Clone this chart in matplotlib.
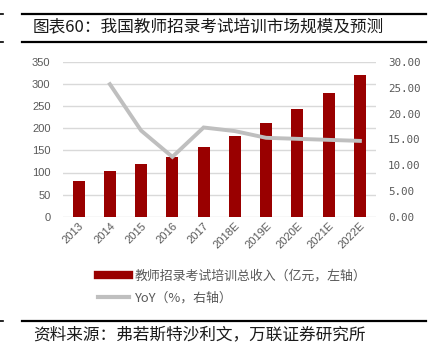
import matplotlib
matplotlib.use("Agg")
import matplotlib.pyplot as plt
from matplotlib.lines import Line2D

years = ["2013", "2014", "2015", "2016", "2017", "2018E", "2019E", "2020E", "2021E", "2022E"]
revenue = [81, 103, 120, 134, 157, 183, 211, 243, 279, 320]
yoy_years = ["2014", "2015", "2016", "2017", "2018E", "2019E", "2020E", "2021E", "2022E"]
yoy = [25.7, 16.7, 11.6, 17.3, 16.6, 15.3, 15.1, 14.9, 14.7]

left_ticks = [0, 50, 100, 150, 200, 250, 300, 350]
right_ticks = [0, 5, 10, 15, 20, 25, 30]

title = "图表60：我国教师招录考试培训市场规模及预测"
source = "资料来源：弗若斯特沙利文，万联证券研究所"
bar_label = "教师招录考试培训总收入（亿元，左轴）"
line_label = "YoY（%，右轴）"

CJK = ["Noto Sans CJK SC", "DejaVu Sans"]
W, H = 436, 358
fig = plt.figure(figsize=(W / 100, H / 100), dpi=100)
ax = fig.add_axes([63 / W, 1 - 216.7 / H, (375.5 - 63) / W, (216.7 - 62) / H])
ax2 = ax.twinx()

x = list(range(len(years)))
bars = ax.bar(x, revenue, width=0.39, color="#990000", zorder=2)
xi = [years.index(y) for y in yoy_years]
ax2.plot(xi, yoy, color="#BFBFBF", lw=2.8, zorder=3, solid_joinstyle="miter")

ax.set_xlim(-0.5, len(years) - 0.5)
ax.set_ylim(0, 350)
ax.set_yticks(left_ticks)
ax2.set_ylim(0, 30)
ax2.set_yticks(right_ticks)
ax2.set_yticklabels([f"{v:.2f}" for v in right_ticks], family="DejaVu Sans Mono", fontsize=7.8, color="#595959")

ax.yaxis.grid(True, color="#D9D9D9", lw=1.0, zorder=0)
ax.set_axisbelow(True)
for a in (ax, ax2):
    for s in a.spines.values():
        s.set_visible(False)
ax.tick_params(axis="both", length=0, colors="#595959", labelsize=8)
ax.tick_params(axis="y", pad=9)
ax2.tick_params(axis="y", length=0, pad=9, colors="#595959")
for lab in ax.get_yticklabels():
    lab.set_family("Liberation Sans")
ax.set_xticks(x)
ax.set_xticklabels(years, rotation=45, ha="right", rotation_mode="anchor", family="Liberation Sans", fontsize=8, color="#595959")
ax.tick_params(axis="x", pad=3)

# legend
handles = [Line2D([0], [0], color="#990000", lw=6), Line2D([0], [0], color="#BFBFBF", lw=3)]
leg = fig.legend(handles, [bar_label, line_label], loc="upper left",
                 bbox_to_anchor=(98 / W, 1 - 270 / H), frameon=False, borderpad=0,
                 borderaxespad=0, handlelength=2.4, handletextpad=0.45, labelspacing=0.65,
                 prop={"family": CJK, "size": 9.3})
for t in leg.get_texts():
    t.set_color("#595959")

# decorations
for yy in (14, 42, 321):
    fig.add_artist(Line2D([22 / W, 426 / W], [1 - yy / H] * 2, color="black", lw=1.6, transform=fig.transFigure))
for yy in (14, 42, 321):
    fig.add_artist(Line2D([0, 3 / W], [1 - yy / H] * 2, color="black", lw=1.2, transform=fig.transFigure))
fig.text(33 / W, 1 - 28 / H, title, family=CJK, fontsize=12, va="center", ha="left", color="#1a1a1a")
fig.text(33 / W, 1 - 335 / H, source, family=CJK, fontsize=12, va="center", ha="left", color="#1a1a1a", style="italic")

fig.savefig("out.png", dpi=100)
